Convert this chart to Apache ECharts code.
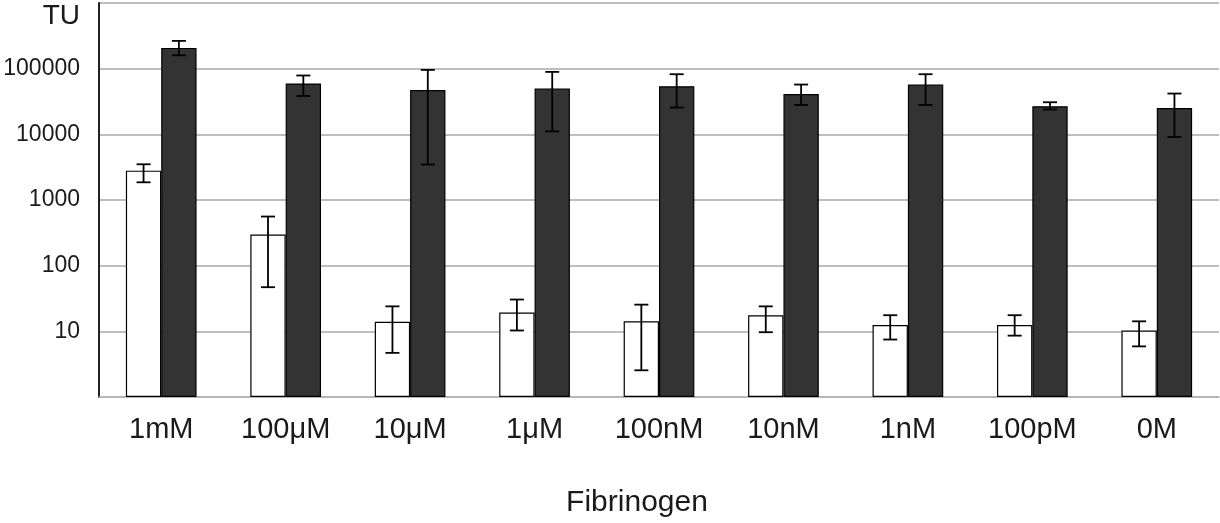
<!DOCTYPE html>
<html>
<head>
<meta charset="utf-8">
<script src="https://cdn.jsdelivr.net/npm/echarts@6/dist/echarts.min.js"></script>
<style>
html,body{margin:0;padding:0;background:#fff;}
#chart{width:1220px;height:523px;}
</style>
</head>
<body>
<div id="chart"></div>
<script>
const categories = ['1mM', '100\u03bcM', '10\u03bcM', '1\u03bcM', '100nM', '10nM', '1nM', '100pM', '0M'];
const whiteVals = [2800, 298, 14, 19.3, 14.2, 17.6, 12.5, 12.5, 10.3];
const whiteLow  = [1860, 47, 4.7, 10.3, 2.55, 9.7, 7.5, 8.6, 5.9];
const whiteHigh = [3500, 560, 24, 30.5, 25.5, 24, 17.6, 17.6, 14.2];
const darkVals = [207000, 59400, 47400, 49800, 54000, 41200, 57300, 26800, 25200];
const darkLow  = [160000, 38400, 3470, 11100, 25600, 28000, 28000, 23900, 9100];
const darkHigh = [265000, 78700, 95700, 89300, 82300, 57300, 82300, 30800, 41800];
const yTickLabels = ['10', '100', '1000', '10000', '100000'];
const yAxisName = 'TU';
const xAxisName = 'Fibrinogen';

const FONT = '"Liberation Sans", Arial, sans-serif';
const BAR_FRAC = 0.284;

function errData(low, high) {
  return categories.map((c, i) => [i, low[i], high[i]]);
}
function errRender(side) {
  return function (params, api) {
    const idx = api.value(0);
    const pLow = api.coord([idx, api.value(1)]);
    const pHigh = api.coord([idx, api.value(2)]);
    const band = api.size([1, 0])[0];
    const x = pLow[0] + side * band * BAR_FRAC / 2;
    const cap = 7;
    const style = { stroke: '#000', lineWidth: 1.8 };
    return {
      type: 'group',
      children: [
        { type: 'line', shape: { x1: x, y1: pLow[1], x2: x, y2: pHigh[1] }, style: style },
        { type: 'line', shape: { x1: x - cap, y1: pLow[1], x2: x + cap, y2: pLow[1] }, style: style },
        { type: 'line', shape: { x1: x - cap, y1: pHigh[1], x2: x + cap, y2: pHigh[1] }, style: style }
      ]
    };
  };
}

const chart = echarts.init(document.getElementById('chart'), null, { renderer: 'canvas' });
chart.setOption({
  animation: false,
  backgroundColor: '#fff',
  textStyle: { fontFamily: FONT },
  grid: { left: 99, right: 1, top: 3, bottom: 126, containLabel: false },
  xAxis: {
    type: 'category',
    data: categories,
    name: xAxisName,
    nameLocation: 'middle',
    nameGap: 91,
    nameTextStyle: { fontSize: 30, color: '#1a1a1a', fontFamily: FONT, padding: [0, 44, 0, 0] },
    axisLine: { show: true, lineStyle: { color: '#b4b4b4', width: 1.5 } },
    axisTick: { show: false },
    axisLabel: { fontSize: 29, color: '#1a1a1a', margin: 18, fontFamily: FONT, interval: 0 },
    splitLine: { show: false }
  },
  yAxis: {
    type: 'log',
    logBase: 10,
    min: 1,
    max: 1000000,
    name: yAxisName,
    nameLocation: 'end',
    nameGap: -13,
    nameTextStyle: { fontSize: 28, color: '#1a1a1a', fontFamily: FONT, align: 'right', verticalAlign: 'middle', padding: [0, 19, 0, 0] },
    axisLine: { show: true, lineStyle: { color: '#222', width: 2 } },
    axisTick: { show: false },
    axisLabel: {
      fontSize: 23, color: '#1a1a1a', margin: 19, fontFamily: FONT,
      formatter: function (v) {
        const s = String(Math.round(v));
        return yTickLabels.indexOf(s) >= 0 ? s : '';
      }
    },
    splitLine: { show: true, lineStyle: { color: '#a8a8a8', width: 1.5 } }
  },
  series: [
    {
      type: 'bar',
      data: whiteVals,
      barWidth: (BAR_FRAC * 100) + '%',
      barGap: '0%',
      itemStyle: { color: '#ffffff', borderColor: '#000', borderWidth: 1.2 },
      z: 2
    },
    {
      type: 'bar',
      data: darkVals,
      barWidth: (BAR_FRAC * 100) + '%',
      barGap: '0%',
      itemStyle: { color: '#333333', borderColor: '#000', borderWidth: 1.2 },
      z: 2
    },
    {
      type: 'custom',
      data: errData(whiteLow, whiteHigh),
      encode: { x: 0, y: [1, 2] },
      renderItem: errRender(-1),
      z: 5
    },
    {
      type: 'custom',
      data: errData(darkLow, darkHigh),
      encode: { x: 0, y: [1, 2] },
      renderItem: errRender(1),
      z: 5
    }
  ]
});
</script>
</body>
</html>
